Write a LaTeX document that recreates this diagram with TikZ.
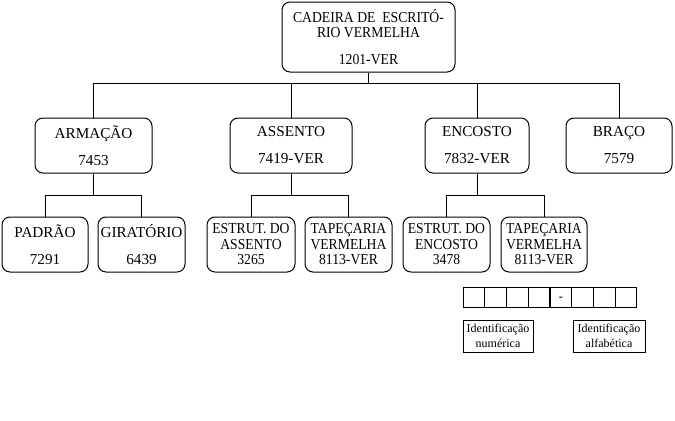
\documentclass[tikz,border=0pt]{standalone}
\usepackage{fontspec}
\setmainfont{Liberation Serif}
\newfontfamily\narrowserif[FakeStretch=0.9]{Liberation Serif}
\usetikzlibrary{positioning}

\begin{document}
\begin{tikzpicture}[
    x=0.75pt, y=-0.75pt,
    box/.style={rectangle, rounded corners=6pt, draw=black, line width=0.75pt,
        minimum height=41.25pt, inner sep=0pt, align=center,
        font=\fontsize{11.4}{11.6}\selectfont},
    narrowbox/.style={box, font=\narrowserif\fontsize{11.4}{11.6}\selectfont},
    cell/.style={rectangle, draw=black, line width=0.75pt, minimum width=16.3pt,
        minimum height=15pt, inner sep=0pt},
    tag/.style={rectangle, draw=black, line width=0.75pt, minimum width=52.5pt,
        minimum height=24pt, inner sep=0pt, align=center,
        font=\fontsize{9}{11}\selectfont},
    link/.style={line width=0.75pt, black}
]
    \useasboundingbox (0,0) rectangle (675,421);

    % top
    \node[narrowbox, minimum width=129.75pt, minimum height=52.5pt] (chair) at (368.5,37)
        {CADEIRA DE\ \ ESCRIT\'O-\\RIO VERMELHA\\[8.5pt]1201-VER};

    % second row
    \node[box, minimum width=87.75pt] (frame) at (93.5,145.5) {ARMA\c{C}\~AO\\[8.7pt]7453};
    \node[box, minimum width=91.5pt] (seat) at (291,145.5) {ASSENTO\\[8.7pt]7419-VER};
    \node[box, minimum width=78pt] (back) at (477,145.5) {ENCOSTO\\[8.7pt]7832-VER};
    \node[box, minimum width=79.5pt] (arm) at (619,145.5) {BRA\c{C}O\\[8.7pt]7579};

    % third row
    \node[box, minimum width=64.5pt] (std) at (45,244.5) {PADR\~AO\\[8.7pt]7291};
    \node[box, minimum width=65.25pt] (swivel) at (141.5,244.5) {GIRAT\'ORIO\\[8.7pt]6439};
    \node[narrowbox, minimum width=66pt] (seatframe) at (251,244.5) {ESTRUT. DO\\ASSENTO\\3265};
    \node[narrowbox, minimum width=65.25pt] (seatcloth) at (348.5,244.5) {TAPE\c{C}ARIA\\VERMELHA\\8113-VER};
    \node[narrowbox, minimum width=65.25pt] (backframe) at (446.5,244.5) {ESTRUT. DO\\ENCOSTO\\3478};
    \node[narrowbox, minimum width=64.5pt] (backcloth) at (544,244.5) {TAPE\c{C}ARIA\\VERMELHA\\8113-VER};

    % connectors
    \draw[link] (chair.south) -- ++(0,11) coordinate (hub);
    \draw[link] (hub) -| (frame.north);
    \draw[link] (hub) -| (seat.north);
    \draw[link] (hub) -| (back.north);
    \draw[link] (hub) -| (arm.north);

    \draw[link] (frame.south) -- ++(0,22) coordinate (framehub);
    \draw[link] (framehub) -| (std.north);
    \draw[link] (framehub) -| (swivel.north);
    \draw[link] (seat.south) -- ++(0,22) coordinate (seathub);
    \draw[link] (seathub) -| (seatframe.north);
    \draw[link] (seathub) -| (seatcloth.north);
    \draw[link] (back.south) -- ++(0,22) coordinate (backhub);
    \draw[link] (backhub) -| (backframe.north);
    \draw[link] (backhub) -| (backcloth.north);

    % code cells
    \foreach \i in {1,...,8}
        \node[cell] (c\i) at ({463+21.75*(\i-0.5)},297) {};
    \node[font=\bfseries\small] (dash) at ([yshift=-1pt]c5.center) {-};

    \node[tag] (num) at (498,336) {Identifica\c{c}\~ao\\num\'erica};
    \node[tag, minimum width=54pt] (alpha) at (609,336) {Identifica\c{c}\~ao\\alfab\'etica};
\end{tikzpicture}
\end{document}
